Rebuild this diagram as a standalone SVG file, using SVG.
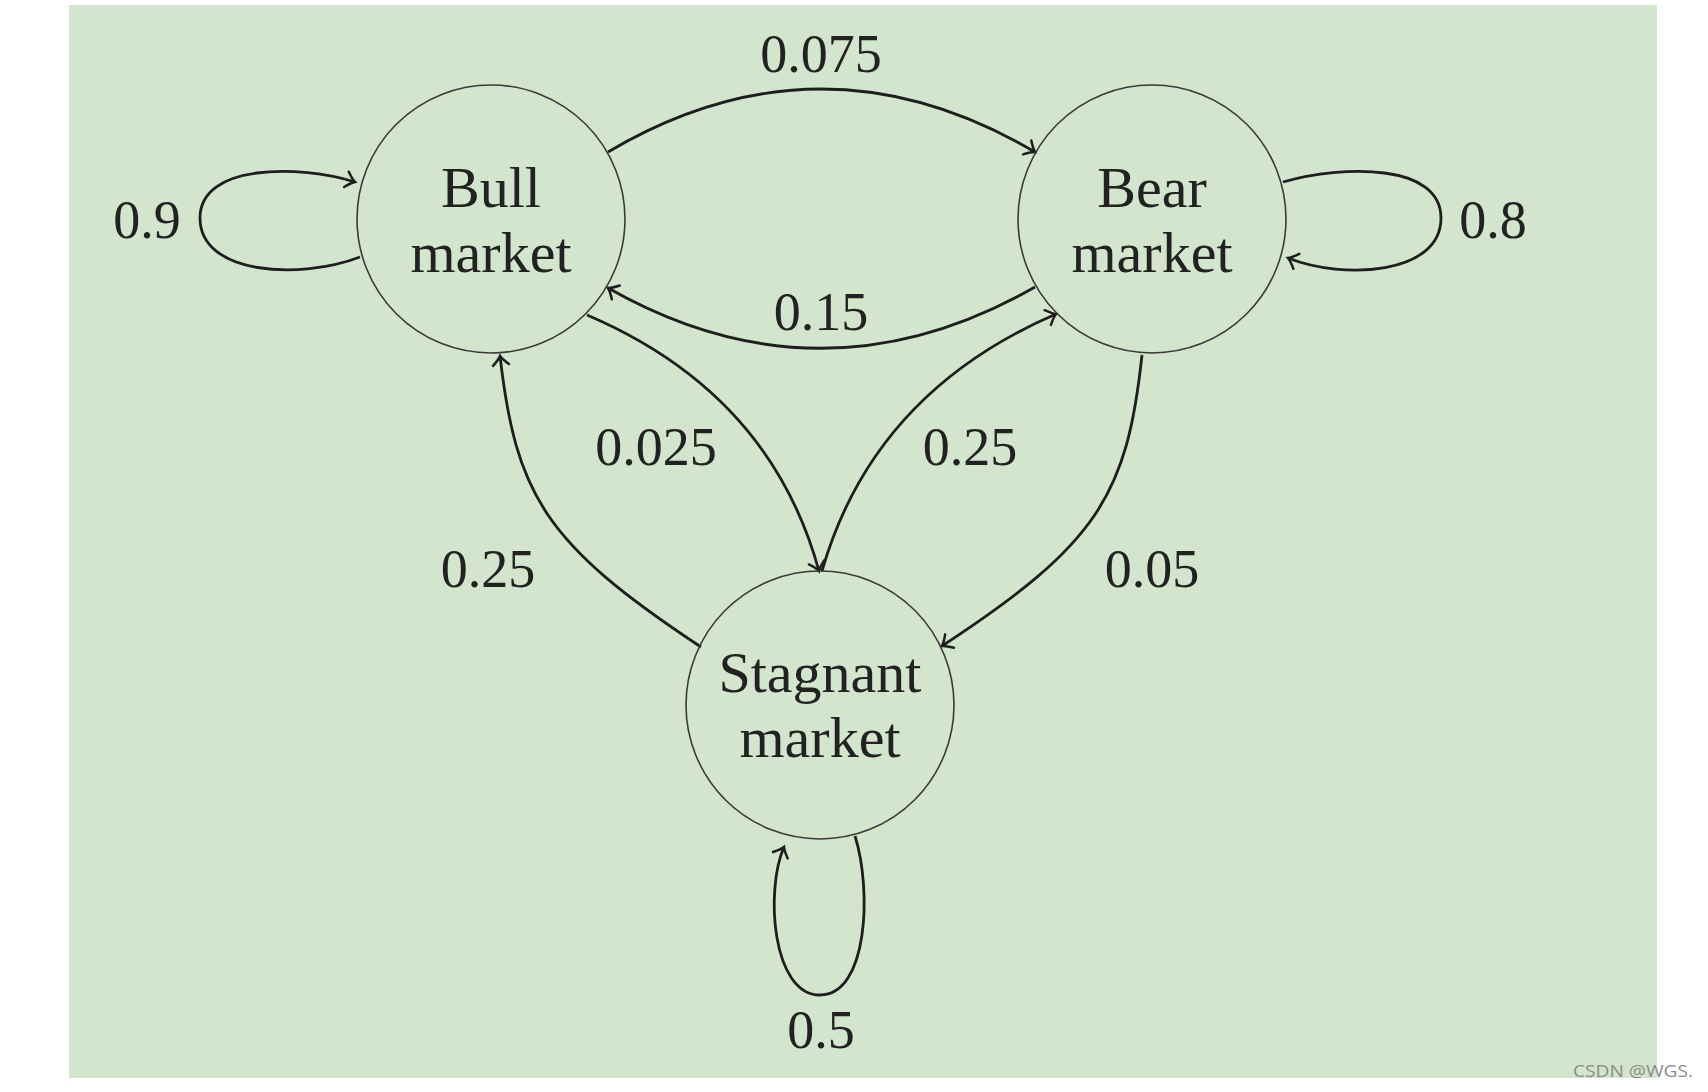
<svg xmlns="http://www.w3.org/2000/svg" width="1708" height="1092" viewBox="0 0 1708 1092">
  <style>
    .node { fill: none; stroke: #3a3a3a; stroke-width: 1.6; }
    .ntext { font-family: "Liberation Serif", "DejaVu Serif", serif; font-size: 58px; fill: #222; text-anchor: middle; }
    .label { font-family: "Liberation Serif", "DejaVu Serif", serif; font-size: 54px; fill: #222; text-anchor: middle; }
    .edge { fill: none; stroke: #1e1e1e; stroke-width: 2.8; marker-end: url(#arr); }
    .wm { font-family: "Open Sans", "Liberation Sans", sans-serif; font-size: 16px; fill: #8c8c8c; }
  </style>
  <defs>
    <marker id="arr" markerUnits="userSpaceOnUse" orient="auto" markerWidth="30" markerHeight="30" refX="0" refY="0" viewBox="-15 -15 30 30" overflow="visible">
      <path d="M -9,-8 Q -3,-1.5 0,0 Q -3,1.5 -9,8" fill="none" stroke="#1e1e1e" stroke-width="2.5" stroke-linecap="round"/>
    </marker>
  </defs>
  <rect x="0" y="0" width="1708" height="1092" fill="#ffffff"/>
  <rect x="69" y="5" width="1588" height="1073" fill="#d4e5cd"/>

  <g id="connectors">
    <path id="e-bull-bear" class="edge" d="M 608,152 Q 821,26 1035,152"/>
    <path id="e-bear-bull" class="edge" d="M 1035,287 Q 821,409 608,288"/>
    <path id="e-bull-stag" class="edge" d="M 587,315 Q 770,393 819,571"/>
    <path id="e-stag-bear" class="edge" d="M 822,571 Q 873,393 1056,314"/>
    <path id="e-stag-bull" class="edge" d="M 701,647 C 545,544 516,495 500,356"/>
    <path id="e-bear-stag" class="edge" d="M 1142,355 C 1127,495 1098,544 942,646"/>
    <path id="e-bull-loop" class="edge" d="M 360,257 C 300,280 200,275 200,218 C 200,163 300,165 355,182"/>
    <path id="e-bear-loop" class="edge" d="M 1283,182 C 1343,165 1441,163 1441,218 C 1441,275 1343,280 1288,258"/>
    <path id="e-stag-loop" class="edge" d="M 855,836 C 872,890 868,995 820,995 C 772,995 765,890 784,847"/>
  </g>

  <g id="labels">
    <text class="label" x="821" y="72">0.075</text>
    <text class="label" x="821" y="330">0.15</text>
    <text class="label" x="147" y="238">0.9</text>
    <text class="label" x="1493" y="238">0.8</text>
    <text class="label" x="656" y="465">0.025</text>
    <text class="label" x="970" y="465">0.25</text>
    <text class="label" x="488" y="587">0.25</text>
    <text class="label" x="1152" y="587">0.05</text>
    <text class="label" x="821" y="1048">0.5</text>
  </g>

  <g id="node-bull">
    <circle class="node" cx="491" cy="219" r="134"/>
    <text class="ntext" x="491" y="207">Bull</text>
    <text class="ntext" x="491" y="272">market</text>
  </g>
  <g id="node-bear">
    <circle class="node" cx="1152" cy="219" r="134"/>
    <text class="ntext" x="1152" y="207">Bear</text>
    <text class="ntext" x="1152" y="272">market</text>
  </g>
  <g id="node-stagnant">
    <circle class="node" cx="820" cy="705" r="134"/>
    <text class="ntext" x="820" y="692">Stagnant</text>
    <text class="ntext" x="820" y="757">market</text>
  </g>

  <text class="wm" x="1573" y="1077" textLength="120" lengthAdjust="spacingAndGlyphs">CSDN @WGS.</text>
</svg>
